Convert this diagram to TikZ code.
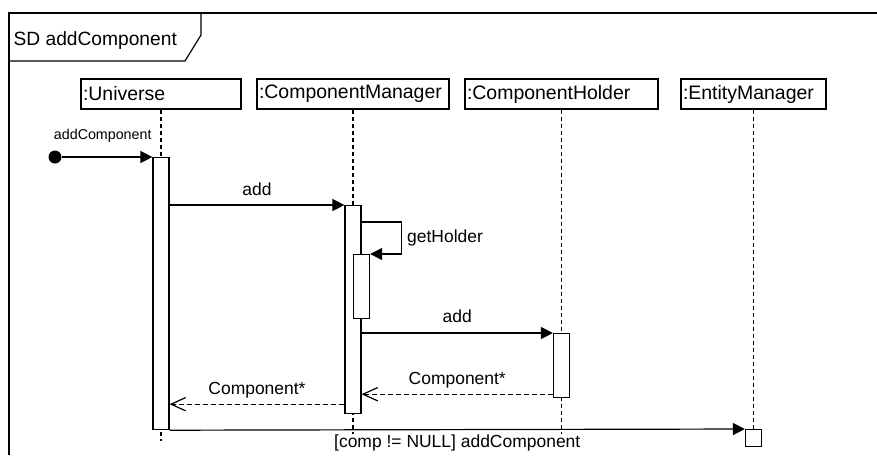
\documentclass[tikz,border=0pt]{standalone}
\usepackage{fontspec}
\setmainfont{Liberation Sans}
\usetikzlibrary{arrows.meta}

\begin{document}
\begin{tikzpicture}[x=0.75pt,y=-0.75pt,line width=0.9pt,
	obj/.style={draw,minimum height=22.5pt,inner xsep=1.5pt,inner ysep=0pt,align=left,text width=#1,font=\fontsize{14.6pt}{17pt}\selectfont},
	act/.style={draw,fill=white,minimum width=12pt,inner sep=0pt,anchor=north},
	life/.style={line width=0.8pt,dash pattern=on 3pt off 2.25pt},
	lbl/.style={inner sep=0pt,text height=0pt,text depth=0pt,font=\fontsize{13.1pt}{15pt}\selectfont},
	call/.style={-{Triangle[length=9pt,width=9pt]}},
	ret/.style={dash pattern=on 3.75pt off 2.25pt,-{Straight Barb[length=11pt,width=10pt]}}]
	\useasboundingbox (0,0) rectangle (877,455);
	% frame
	\draw (9,455) -- (9,13) -- (877,13);
	\draw (9,61) -- (185,61) -- (201,35) -- (201,13);
	\node[anchor=base west,inner sep=0pt,font=\fontsize{14.4pt}{17pt}\selectfont] (t) at (13,45) {SD addComponent};
	% lifelines
	\node[obj=117pt] (u) at (161,94) {:Universe};
	\node[obj=141pt] (cm) at (353,94) {:ComponentManager};
	\node[obj=141.75pt] (ch) at (561.5,94) {:ComponentHolder};
	\node[obj=105.75pt] (em) at (753.5,94) {:EntityManager};
	\foreach \n in {u,cm,ch,em}
		\draw[life] (\n.south) -- (\n |- 0,441);
	% activations
	\node[act,minimum height=204pt] (au) at (u |- 0,157) {};
	\node[act,minimum height=156pt] (acm) at (cm |- 0,205) {};
	\node[act,minimum height=48pt] (ag) at (acm.east |- 0,254) {};
	\node[act,minimum height=48pt] (ach) at (ch |- 0,333) {};
	\node[act,minimum height=12.75pt] (aem) at (em |- 0,429) {};
	\node[circle,fill,inner sep=0pt,minimum size=9.75pt] (s) at (55,157) {};
	\coordinate (r1) at ([yshift=3pt]ach.south west);
	\coordinate (r2) at ([yshift=7.5pt]acm.south west);
	% messages
	\path[call]
	(s) edge node[lbl,above=12pt,pos=0.45,font=\fontsize{10.7pt}{12pt}\selectfont] {addComponent} (au.north west)
	(au.east |- acm.north) edge node[lbl,above=6.25pt] {add} (acm.north west)
	(acm.east |- ach.north) edge node[lbl,above=6.75pt] {add} (ach.north west)
	(au.south east) edge node[inner sep=0pt,text height=9.6pt,text depth=2.8pt,fill=white,below=3.15pt,font=\fontsize{13.1pt}{15pt}\selectfont] {[comp != NULL] addComponent} (aem.north west);
	\draw[call] (acm.east |- 0,222) -- ++(40,0) |- (ag.north east) node[lbl,pos=0.25,right=3.75pt,yshift=-3pt] {getHolder};
	\path[ret]
	(r1) edge node[lbl,above=6pt] {Component*} (acm.east |- r1)
	(r2) edge node[lbl,above=6.5pt] {Component*} (au.east |- r2);
\end{tikzpicture}
\end{document}
